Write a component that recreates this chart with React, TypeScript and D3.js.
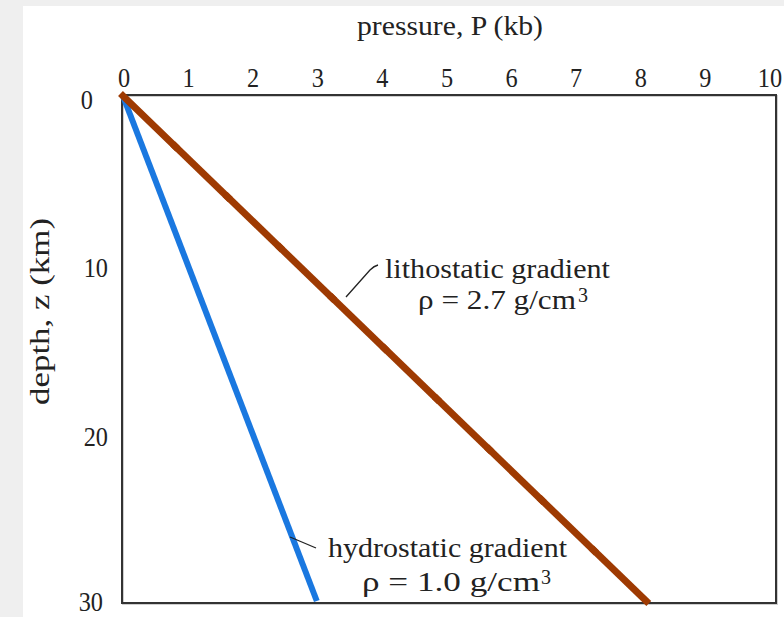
import React from 'react';
import * as d3 from 'd3';

// pressure (kb) ticks and depth (km) ticks
const pressureTicks = [0, 1, 2, 3, 4, 5, 6, 7, 8, 9, 10];
const depthTicks = [0, 10, 20, 30];

const lithoDepth = [0, 3, 6, 9, 12, 15, 18, 21, 24, 27, 30];
const lithoPressure = [0, 0.81, 1.62, 2.43, 3.24, 4.05, 4.86, 5.67, 6.48, 7.29, 8.1];

// hydrostatic curve
const hydroDepth = [0, 30];
const hydroPressure = [0, 3.0];

const W = 784;
const H = 617;
const FONT = '"Liberation Serif", "DejaVu Serif", serif';
const INK = '#222';

const App = () => {
  const x = d3.scaleLinear().domain([0, 10]).range([123, 769]);
  const y = d3.scaleLinear().domain([0, 30]).range([96, 601]);

  const litho = lithoDepth.map((z, i) => ({ z, p: lithoPressure[i] }));
  const hydro = hydroDepth.map((z, i) => ({ z, p: hydroPressure[i] }));

  const line = d3.line<{ z: number; p: number }>()
    .x(d => x(d.p))
    .y(d => y(d.z));

  const boxLeft = x(0) - 1;
  const boxRight = x(10) + 7;
  const boxTop = y(0) - 1;
  const boxBottom = y(30) + 2;

  const tickY = (t: number) => (t === 30 ? y(t) + 10 : y(t) + 13);
  const tickX = (t: number) => (t === 0 ? 93 : t === 30 ? 103 : 108);

  return (
    <svg width={W} height={H} style={{ position: 'absolute', left: 0, top: 0 }} fontFamily={FONT}>
      <rect x={0} y={0} width={W} height={H} fill="#efefef" />
      <rect x={23} y={6} width={W - 23} height={H - 6} fill="#ffffff" />

      {/* plot frame */}
      <rect x={boxLeft + 1} y={boxTop + 1} width={boxRight - boxLeft} height={boxBottom - boxTop}
        fill="none" stroke="#cfcfcf" strokeWidth={2} />
      <rect x={boxLeft} y={boxTop} width={boxRight - boxLeft} height={boxBottom - boxTop}
        fill="none" stroke="#333333" strokeWidth={2} />

      {/* x ticks on top */}
      {pressureTicks.map(t => (
        <text key={t} x={x(t) + 1} y={87} textAnchor="middle" fontSize={27} fill={INK}
          transform={`translate(${x(t) + 1},0) scale(0.9,1) translate(${-(x(t) + 1)},0)`}>{t}</text>
      ))}
      <text x={357} y={35} fontSize={27} fill={INK}
        textLength={186} lengthAdjust="spacingAndGlyphs">pressure, P (kb)</text>

      {/* y ticks */}
      {depthTicks.map(t => (
        <text key={t} x={tickX(t)} y={tickY(t)} textAnchor="end" fontSize={27} fill={INK}
          transform={`translate(${tickX(t)},0) scale(0.9,1) translate(${-tickX(t)},0)`}>{t}</text>
      ))}
      <text transform="translate(49,405) rotate(-90)" fontSize={27} fill={INK}
        textLength={187} lengthAdjust="spacingAndGlyphs">depth, z (km)</text>

      {/* hydrostatic */}
      <path d={line(hydro) || ''} fill="none" stroke="#1a78e0" strokeWidth={6} />

      {/* lithostatic drawn segment by segment */}
      {litho.slice(1).map((d, i) => (
        <path key={i} d={line([litho[i], d]) || ''} fill="none" stroke="#9e3a02"
          strokeWidth={7} strokeLinecap="square" />
      ))}

      {/* annotations */}
      <path d="M346,297 L370,270 Q374,266 378,265" fill="none" stroke={INK} strokeWidth={1.3} />
      <text x={385} y={278} fontSize={27} fill={INK} textLength={225}
        lengthAdjust="spacingAndGlyphs">lithostatic gradient</text>
      <text x={418} y={309} fontSize={27} fill={INK} textLength={158}
        lengthAdjust="spacingAndGlyphs">ρ = 2.7 g/cm</text>
      <text x={578} y={302} fontSize={20} fill={INK}>3</text>

      <path d="M290,537 L316,548" fill="none" stroke={INK} strokeWidth={1.3} />
      <text x={328} y={557} fontSize={27} fill={INK} textLength={239}
        lengthAdjust="spacingAndGlyphs">hydrostatic gradient</text>
      <text x={362} y={591} fontSize={27} fill={INK} textLength={178}
        lengthAdjust="spacingAndGlyphs">ρ = 1.0 g/cm</text>
      <text x={541} y={584} fontSize={20} fill={INK}>3</text>
    </svg>
  );
};

export default App;
